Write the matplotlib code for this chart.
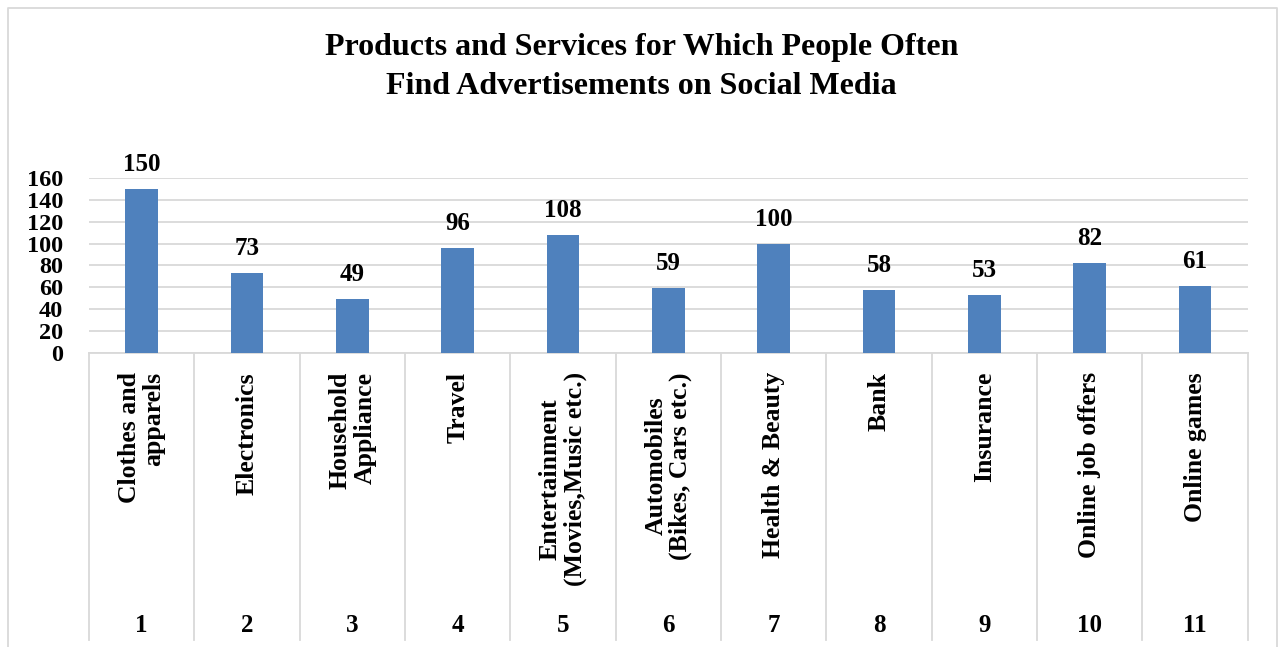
import matplotlib.pyplot as plt
import matplotlib.transforms as mtransforms
from matplotlib.lines import Line2D

categories = [
    'Clothes and\napparels', 'Electronics', 'Household\nAppliance', 'Travel',
    'Entertainment\n(Movies,Music etc.)', 'Automobiles\n(Bikes, Cars etc.)',
    'Health & Beauty', 'Bank', 'Insurance', 'Online job offers', 'Online games',
]
numbers = ['1', '2', '3', '4', '5', '6', '7', '8', '9', '10', '11']
counts = [150, 73, 49, 96, 108, 59, 100, 58, 53, 82, 61]
yticks = [0, 20, 40, 60, 80, 100, 120, 140, 160]

# how the wrapped category names line up
label_align = ['right', 'center', 'right', 'center', 'center', 'center',
               'center', 'center', 'center', 'center', 'center']

plt.rcParams['font.family'] = 'Liberation Serif'
plt.rcParams['font.weight'] = 'bold'

grid_col = '#d9d9d9'
bar_col = '#4f81bd'

fig = plt.figure(figsize=(12.81, 6.47), dpi=100)
ax = fig.add_axes([0.0695, 0.4544, 0.9045, 0.2705])

x = list(range(len(counts)))
bars = ax.bar(x, counts, width=0.31, color=bar_col, zorder=3)
for b, v in zip(bars, counts):
    ax.annotate(str(v), (b.get_x() + b.get_width() / 2, v), xytext=(0, 13),
                textcoords='offset points', ha='center', va='baseline',
                fontsize=18, fontweight='bold')

ax.set_xlim(-0.5, len(counts) - 0.5)
ax.set_ylim(0, 160)
ax.set_yticks(yticks)
ax.set_yticklabels([str(t) for t in yticks], fontsize=17.5, fontweight='bold')
ax.tick_params(axis='y', length=0, pad=18.5)
ax.set_xticks([])
ax.yaxis.grid(True, color=grid_col, linewidth=1.3, zorder=0)
for s in ['top', 'right', 'left']:
    ax.spines[s].set_visible(False)
ax.spines['bottom'].set_color(grid_col)
ax.spines['bottom'].set_linewidth(1.3)

# category boxes below the axis: separators, names, numbers
tr = mtransforms.blended_transform_factory(ax.transData, fig.transFigure)
y0 = 1 - 353 / 647
for i in range(len(counts) + 1):
    fig.add_artist(Line2D([i - 0.5, i - 0.5], [0.011, y0], transform=tr,
                          color=grid_col, linewidth=1.3))
for i, (name, num) in enumerate(zip(categories, numbers)):
    fig.text(i, 0.425, name, transform=tr, rotation=90, ha='center', va='top',
             multialignment=label_align[i], fontsize=18.5, fontweight='bold',
             linespacing=1.1)
    fig.text(i, 0.034, num, transform=tr, ha='center', va='center',
             fontsize=18, fontweight='bold')

fig.text(0.501, 0.896, 'Products and Services for Which People Often\n'
         'Find Advertisements on Social Media', ha='center', va='center',
         fontsize=23, fontweight='bold', linespacing=1.45)

# chart frame (bottom edge runs off the image)
fx = [8 / 1281, 8 / 1281, 1277 / 1281, 1277 / 1281]
fy = [0, 1 - 8 / 647, 1 - 8 / 647, 0]
fig.add_artist(Line2D(fx, fy, transform=fig.transFigure, color=grid_col,
                      linewidth=1.3))

fig.savefig('out.png', dpi=100)
